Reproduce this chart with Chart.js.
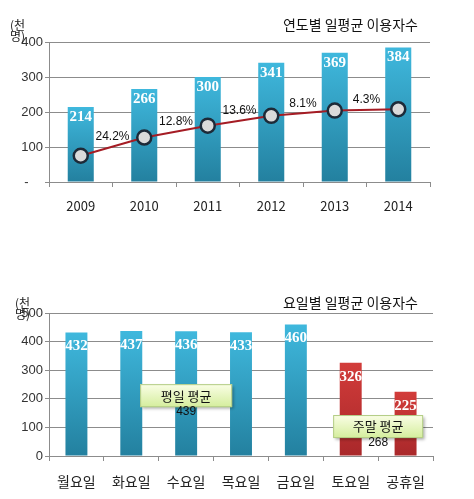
<!DOCTYPE html>
<html>
<head>
<meta charset="utf-8">
<script src="https://cdn.jsdelivr.net/npm/chart.js@4"></script>
<style>
  body { margin: 0; background: #fff; width: 474px; height: 499px; position: relative; overflow: hidden; }
  canvas { position: absolute; left: 0; }
</style>
</head>
<body>
<canvas id="yearChart" width="474" height="240" style="top:0"></canvas>
<canvas id="dayChart" width="474" height="239" style="top:260px"></canvas>
<script>
// yearly daily-average users (thousands)
const years = ['2009', '2010', '2011', '2012', '2013', '2014'];
const yearUsers = [214, 266, 300, 341, 369, 384];
const yearTrend = [75, 127, 161, 189, 204, 208];
const growthLabels = ['24.2%', '12.8%', '13.6%', '8.1%', '4.3%'];

// daily-average users by day of week (thousands)
const days = ['월요일', '화요일', '수요일', '목요일', '금요일', '토요일', '공휴일'];
const dayUsers = [432, 437, 436, 433, 460, 326, 225];
const avgLabels = ['평일 평균', '주말 평균'];
const avgValues = [439, 268];

const KR = '"Noto Sans CJK KR", sans-serif';
const NUM = '"Liberation Sans", Arial, sans-serif';
const GRID = '#8c8c8c';

// vertical gradient running from the bar top down to the baseline
function barFill(colors) {
    return function (ctx) {
        const chart = ctx.chart;
        if (!chart.chartArea || ctx.parsed === undefined) return colors[0];
        const top = chart.scales.y.getPixelForValue(ctx.parsed.y);
        const g = chart.ctx.createLinearGradient(0, top, 0, chart.chartArea.bottom);
        g.addColorStop(0, colors[0]);
        g.addColorStop(1, colors[1]);
        return g;
    };
}

const blue = ['#3fb8dd', '#23809f'];
const red = ['#d23c3a', '#a9282a'];

function axes(maxVal, zeroLabel, xPad, xSize) {
    return {
        x: {
            grid: { display: true, drawOnChartArea: false, tickLength: 5, color: GRID },
            border: { color: GRID },
            ticks: { color: '#222', padding: xPad, font: { family: KR, size: xSize } },
            afterFit: function (scale) { scale.height = 40; }
        },
        y: {
            min: 0,
            max: maxVal,
            ticks: {
                stepSize: 100,
                color: '#333',
                padding: 2,
                font: { family: NUM, size: 13 },
                callback: function (v) { return v === 0 ? zeroLabel : v; }
            },
            grid: { color: GRID, tickLength: 4 },
            border: { color: GRID },
            afterFit: function (scale) { scale.width = 49; }
        }
    };
}

function drawHeader(chart, title, titleY, unitY) {
    const ctx = chart.ctx;
    ctx.save();
    ctx.fillStyle = '#111';
    ctx.font = '14px ' + KR;
    ctx.textAlign = 'right';
    ctx.textBaseline = 'middle';
    ctx.fillText(title, 418, titleY);
    ctx.font = '12px ' + KR;
    ctx.textAlign = 'left';
    ctx.fillStyle = '#222';
    ctx.fillText('(천', unitY[0], unitY[1]);
    ctx.fillText('명)', unitY[0], unitY[1] + 11);
    ctx.restore();
}

function drawBarValues(chart, offset) {
    const ctx = chart.ctx;
    const meta = chart.getDatasetMeta(0);
    ctx.save();
    ctx.fillStyle = '#fff';
    ctx.font = 'bold 15px "Liberation Serif", serif';
    ctx.textAlign = 'center';
    ctx.textBaseline = 'middle';
    meta.data.forEach(function (bar, i) {
        ctx.fillText(chart.data.datasets[0].data[i], bar.x, bar.y + offset);
    });
    ctx.restore();
}

const yearPlugin = {
    id: 'yearLabels',
    afterDatasetsDraw(chart) {
        drawBarValues(chart, 10);
        const pts = chart.getDatasetMeta(1).data;
        const ctx = chart.ctx;
        ctx.save();
        ctx.fillStyle = '#111';
        ctx.font = '12px ' + NUM;
        ctx.textAlign = 'center';
        ctx.textBaseline = 'middle';
        growthLabels.forEach(function (t, i) {
            const a = pts[i], b = pts[i + 1];
            ctx.fillText(t, (a.x + b.x) / 2, (a.y + b.y) / 2 - 10);
        });
        ctx.restore();
    },
    afterDraw(chart) {
        drawHeader(chart, '연도별 일평균 이용자수', 25, [10, 25]);
    }
};

new Chart(document.getElementById('yearChart'), {
    data: {
        labels: years,
        datasets: [{
            type: 'bar',
            data: yearUsers,
            backgroundColor: barFill(blue),
            barPercentage: 0.82,
            categoryPercentage: 0.5,
            order: 1
        }, {
            type: 'line',
            data: yearTrend,
            borderColor: '#a51c24',
            borderWidth: 2,
            pointRadius: 7,
            pointBackgroundColor: '#dadada',
            pointBorderColor: '#1d2a38',
            pointBorderWidth: 2.5,
            tension: 0,
            order: 0
        }]
    },
    options: {
        responsive: false,
        animation: false,
        layout: { padding: { left: 0, right: 44, top: 42, bottom: 18 } },
        plugins: { legend: { display: false }, tooltip: { enabled: false } },
        scales: axes(400, '-    ', 11, 13)
    },
    plugins: [yearPlugin]
});

const dayPlugin = {
    id: 'dayLabels',
    afterDatasetsDraw(chart) {
        drawBarValues(chart, 14);
        const ctx = chart.ctx;
        const xs = chart.scales.x, ys = chart.scales.y;
        // text boxes: anchored at a category position and a value on the y axis
        const spots = [
            { at: [2, 2], y: 211, w: 92 },
            { at: [5, 6], y: 103, w: 90 }
        ];
        spots.forEach(function (s, i) {
            const cx = (xs.getPixelForValue(s.at[0]) + xs.getPixelForValue(s.at[1])) / 2;
            const cy = ys.getPixelForValue(s.y);
            const x = cx - s.w / 2, y = cy - 11.5, h = 23;
            ctx.save();
            ctx.shadowColor = 'rgba(0,0,0,0.35)';
            ctx.shadowOffsetX = 2;
            ctx.shadowOffsetY = 2;
            ctx.shadowBlur = 3;
            const g = ctx.createLinearGradient(0, y, 0, y + h);
            g.addColorStop(0, '#fafee6');
            g.addColorStop(1, '#d4ed9c');
            ctx.fillStyle = g;
            ctx.fillRect(x, y, s.w, h);
            ctx.shadowColor = 'transparent';
            ctx.strokeStyle = '#b3cd85';
            ctx.lineWidth = 1;
            ctx.strokeRect(x + 0.5, y + 0.5, s.w - 1, h - 1);
            ctx.fillStyle = '#111';
            ctx.font = '13px ' + KR;
            ctx.textAlign = 'center';
            ctx.textBaseline = 'middle';
            ctx.fillText(avgLabels[i], cx, cy);
            ctx.font = '12px ' + NUM;
            ctx.fillText(avgValues[i], cx, cy + 16);
            ctx.restore();
        });
    },
    afterDraw(chart) {
        drawHeader(chart, '요일별 일평균 이용자수', 43, [15, 43]);
    }
};

new Chart(document.getElementById('dayChart'), {
    type: 'bar',
    data: {
        labels: days,
        datasets: [{
            data: dayUsers,
            backgroundColor: function (ctx) {
                return barFill(ctx.dataIndex >= 5 ? red : blue)(ctx);
            },
            barPercentage: 0.8,
            categoryPercentage: 0.5
        }]
    },
    options: {
        responsive: false,
        animation: false,
        layout: { padding: { left: 0, right: 41, top: 53, bottom: 3 } },
        plugins: { legend: { display: false }, tooltip: { enabled: false } },
        scales: axes(500, '0', 12, 14)
    },
    plugins: [dayPlugin]
});
</script>
</body>
</html>
